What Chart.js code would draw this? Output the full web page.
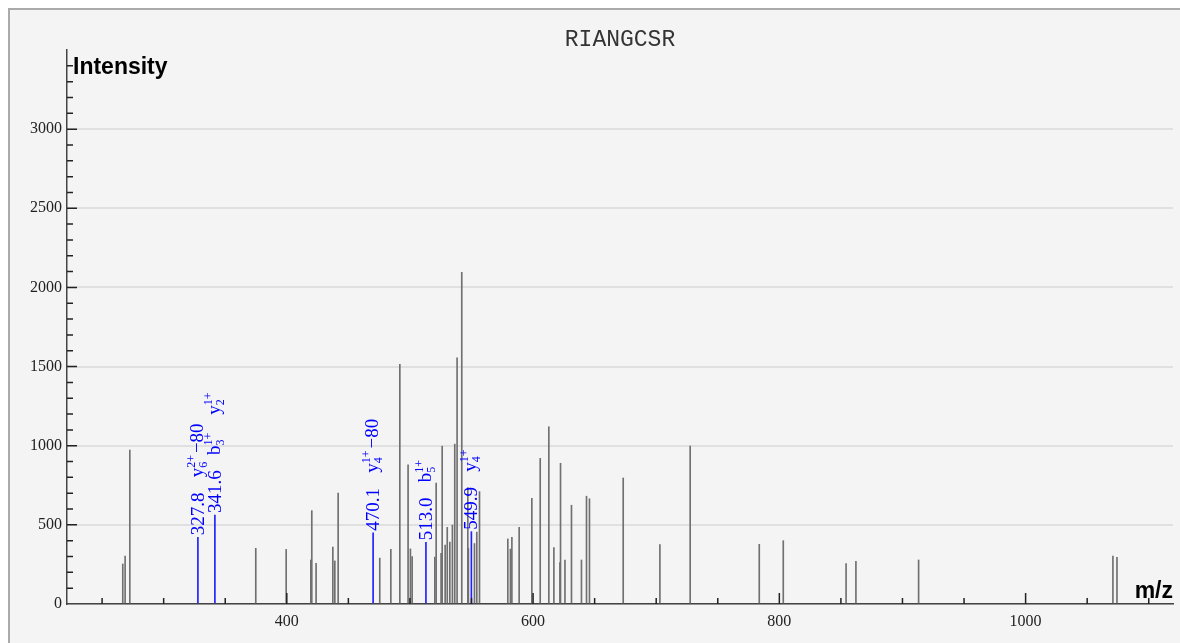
<!DOCTYPE html>
<html>
<head>
<meta charset="utf-8">
<script src="https://cdn.jsdelivr.net/npm/chart.js@4/dist/chart.umd.min.js"></script>
<style>
  html, body { margin: 0; padding: 0; background: #fff; overflow: hidden; width: 1180px; height: 643px; }
  #frame { position: absolute; left: 8px; top: 8px; width: 1300px; height: 800px; border: 2px solid #aaa; background: #f4f4f4; }
  #spec { position: absolute; left: 0; top: 0; }
</style>
</head>
<body>
<div id="frame"></div>
<canvas id="spec" width="1180" height="643"></canvas>
<script>
// peptide shown as the title
const peptide = 'RIANGCSR';

// unmatched peaks (m/z, intensity)
const peakMz = [266.8, 268.7, 272.5, 374.8, 399.5, 419.5, 420.3, 423.8, 437.4, 439.0, 441.7,
  475.5, 484.5, 491.8, 498.5, 500.4, 501.8, 520.2, 521.3, 525.3, 526.2, 528.6, 530.3, 532.4,
  534.5, 536.4, 538.3, 542.1, 547.0, 547.5, 552.4, 554.3, 556.5, 579.5, 581.6, 582.8, 588.7,
  599.0, 605.8, 612.8, 616.9, 621.8, 622.3, 625.9, 631.2, 639.3, 643.4, 645.8, 673.2, 703.0,
  727.6, 783.7, 803.2, 854.2, 862.2, 913.1, 1070.9, 1074.2];
const peakInt = [253, 303, 973, 352, 345, 278, 590, 257, 360, 272, 701,
  290, 346, 1514, 880, 348, 299, 296, 764, 320, 997, 373, 484, 391,
  499, 1010, 1556, 2095, 735, 352, 382, 454, 710, 411, 347, 421, 484,
  667, 920, 1120, 356, 261, 889, 278, 624, 278, 681, 665, 796, 375,
  998, 377, 400, 255, 270, 278, 303, 295];

// matched peaks and their ion labels [ion, subscript, charge, suffix]
const matchMz = [327.8, 341.6, 470.1, 513.0, 549.9];
const matchInt = [421, 562, 450, 390, 457];
const matchIons = [
  [['y', '6', '2+', '\u221280']],
  [['b', '3', '1+', ''], ['y', '2', '1+', '']],
  [['y', '4', '1+', '\u221280']],
  [['b', '5', '1+', '']],
  [['y', '4', '1+', '']]
];

const xLabelTicks = [400, 600, 800, 1000];
const yMaxLabel = 3000;

const serif = '"Liberation Serif", "Times New Roman", serif';

// ticks inside the axes, titles, rotated peak labels
const spectrumDecor = {
  id: 'spectrumDecor',
  afterDraw(chart) {
    const ctx = chart.ctx, a = chart.chartArea;
    const xs = chart.scales.x, ys = chart.scales.y;
    ctx.save();

    ctx.strokeStyle = '#222';
    ctx.lineWidth = 1.5;
    ctx.beginPath();
    for (let v = 100; v < ys.max; v += 100) {
      const y = ys.getPixelForValue(v);
      ctx.moveTo(a.left, y); ctx.lineTo(a.left + (v % 500 === 0 ? 10 : 6), y);
    }
    for (let v = Math.ceil(xs.min / 50) * 50; v < xs.max; v += 50) {
      const x = xs.getPixelForValue(v);
      ctx.moveTo(x, a.bottom); ctx.lineTo(x, a.bottom - (v % 200 === 0 ? 11 : 6));
    }
    ctx.stroke();

    ctx.fillStyle = '#333';
    ctx.font = '23px "Liberation Mono", "Courier New", monospace';
    ctx.textAlign = 'center';
    ctx.textBaseline = 'middle';
    ctx.fillText(peptide, (a.left + a.right) / 2, 40);

    ctx.fillStyle = '#000';
    ctx.font = 'bold 23px "Liberation Sans", Arial, sans-serif';
    ctx.textBaseline = 'alphabetic';
    ctx.textAlign = 'left';
    ctx.fillText('Intensity', a.left + 6, 74);
    ctx.textAlign = 'right';
    ctx.fillText('m/z', a.right, 598);

    ctx.fillStyle = '#0000ff';
    ctx.textAlign = 'left';
    matchMz.forEach((mz, i) => {
      const px = xs.getPixelForValue(mz), top = ys.getPixelForValue(matchInt[i]);
      ctx.save();
      ctx.translate(px, top);
      ctx.rotate(-Math.PI / 2);
      ctx.font = '19px ' + serif;
      ctx.fillText(mz.toFixed(1), 2, 6);
      let u = 60;
      matchIons[i].forEach(([ion, sub, sup, tail]) => {
        ctx.font = '19px ' + serif;
        ctx.fillText(ion, u, 5);
        let w = ctx.measureText(ion).width;
        ctx.font = '12px ' + serif;
        ctx.fillText(sup, u + w, -3);
        ctx.fillText(sub, u + w, 9);
        w += Math.max(ctx.measureText(sup).width, ctx.measureText(sub).width);
        if (tail) {
          ctx.font = '19px ' + serif;
          ctx.fillText(tail, u + w + 2, 5);
          w += 2 + ctx.measureText(tail).width;
        }
        u += w + 18;
      });
      ctx.restore();
    });
    ctx.restore();
  }
};

new Chart(document.getElementById('spec'), {
  type: 'bar',
  data: {
    datasets: [
      {
        data: peakMz.map((m, i) => ({ x: m, y: peakInt[i] })),
        backgroundColor: '#707070',
        barThickness: 1,
        grouped: false
      },
      {
        data: matchMz.map((m, i) => ({ x: m, y: matchInt[i] })),
        backgroundColor: '#2020ff',
        barThickness: 1,
        grouped: false
      }
    ]
  },
  options: {
    responsive: false,
    animation: false,
    devicePixelRatio: 1,
    layout: { padding: { top: 50, right: 7, bottom: 0, left: 0 } },
    plugins: { legend: { display: false }, tooltip: { enabled: false } },
    scales: {
      x: {
        type: 'linear',
        min: 221.5,
        max: 1119.7,
        offset: false,
        afterBuildTicks: s => { s.ticks = xLabelTicks.map(v => ({ value: v })); },
        afterFit: s => { s.height = 39; },
        grid: { display: false, drawTicks: false },
        border: { display: true, color: '#444', width: 1.5 },
        ticks: { color: '#222', padding: 8, font: { family: serif, size: 16 }, maxRotation: 0, callback: v => String(v) }
      },
      y: {
        min: 0,
        max: 3500,
        afterBuildTicks: s => { s.ticks = s.ticks.filter(t => t.value <= yMaxLabel); },
        afterFit: s => { s.width = 67; },
        grid: { color: '#e0e0e0', lineWidth: 2, drawTicks: false },
        border: { display: true, color: '#444', width: 1.5 },
        ticks: { stepSize: 500, color: '#222', padding: 5, font: { family: serif, size: 16 }, callback: v => String(v) }
      }
    }
  },
  plugins: [spectrumDecor]
});
</script>
</body>
</html>
